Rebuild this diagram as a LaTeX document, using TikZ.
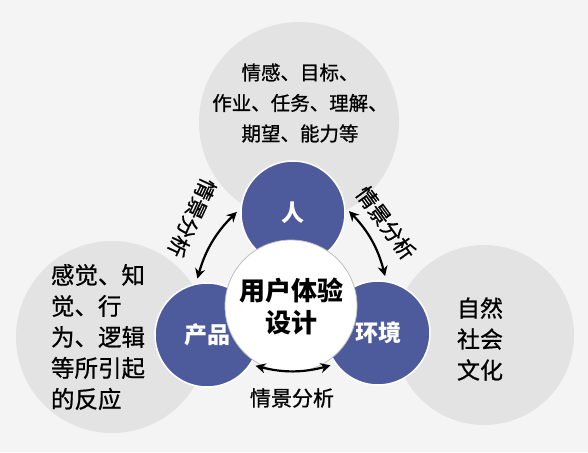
\documentclass[tikz,border=0pt]{standalone}
\usepackage{fontspec}
\newfontfamily\cjk{Noto Sans CJK SC}
\newfontfamily\cjkmed[FakeBold=0.8]{Noto Sans CJK SC}
\usetikzlibrary{arrows.meta}
\definecolor{bggray}{HTML}{F4F4F4}
\definecolor{circgray}{HTML}{E3E3E3}
\definecolor{circblue}{HTML}{4D5A9C}
\tikzset{graycirc/.style={shape=circle,fill=circgray,inner sep=0pt}}
\tikzset{bluecirc/.style={shape=circle,fill=circblue,draw=white,line width=1.5pt,inner sep=0pt,minimum size=104pt,text=white,font=\cjk\bfseries\fontsize{23}{23}\selectfont}}
\tikzset{centercirc/.style={shape=circle,fill=white,draw=black!25,line width=0.8pt,inner sep=0pt,minimum size=132pt,align=center,font=\cjk\bfseries\fontsize{26}{32}\selectfont}}
\tikzset{graytext/.style={text=black,inner sep=0pt}}
\tikzset{twoway/.style={{Stealth[length=10pt,width=10pt]}-{Stealth[length=10pt,width=10pt]},line width=2.2pt,shorten <=5pt,shorten >=5pt}}
\tikzset{arrowlabel/.style={inner sep=0pt,font=\cjkmed\fontsize{21}{21}\selectfont}}

\begin{document}
\begin{tikzpicture}[x=1pt,y=-1pt]
            \fill[bggray] (0,0) rectangle (588,452);
            \useasboundingbox (0,0) rectangle (588,452);
            % setup the gray circles
            \foreach \n/\x/\y/\r in {gtop/299/122/100,gleft/112/337/96,gright/484/335/90}
            {
                \node[graycirc,minimum size={\r*2pt}] (\n) at (\x,\y){};
            }
            \node[graytext,align=center,font=\cjkmed\fontsize{19.5}{30.5}\selectfont] (toptext) at (300,103)
                {情感、目标、\\作业、任务、理解、\\期望、能力等};
            \node[graytext,align=left,font=\cjkmed\fontsize{23.5}{31}\selectfont] (lefttext) at (98,337)
                {感觉、知\\觉、行\\为、逻辑\\等所引起\\的反应};
            \node[graytext,align=left,font=\cjkmed\fontsize{23}{31}\selectfont] (righttext) at (480,339)
                {自然\\社会\\文化};
            % the three blue circles
            \foreach \n/\x/\y/\t in {ren/293/213/人,prod/207/335/产品,env/378/333/环境}
            {
                \node[bluecirc] (\n) at (\x,\y){\t};
            }
            \node[centercirc] (ux) at (291,306){用户体验\\设计};
            % arrows between them
            \draw[twoway] (ren.175) to[bend right=15] (prod.102);
            \draw[twoway] (ren.6) to[bend left=15] (env.81);
            \draw[twoway] (prod.-34) to[bend right=15] (env.216);
            \node[arrowlabel,rotate=-115] (labl) at (192,218){情景分析};
            \node[arrowlabel,rotate=-54] (labr) at (386,223){情景分析};
            \node[arrowlabel] (labb) at (292,398){情景分析};
        \end{tikzpicture}
\end{document}
